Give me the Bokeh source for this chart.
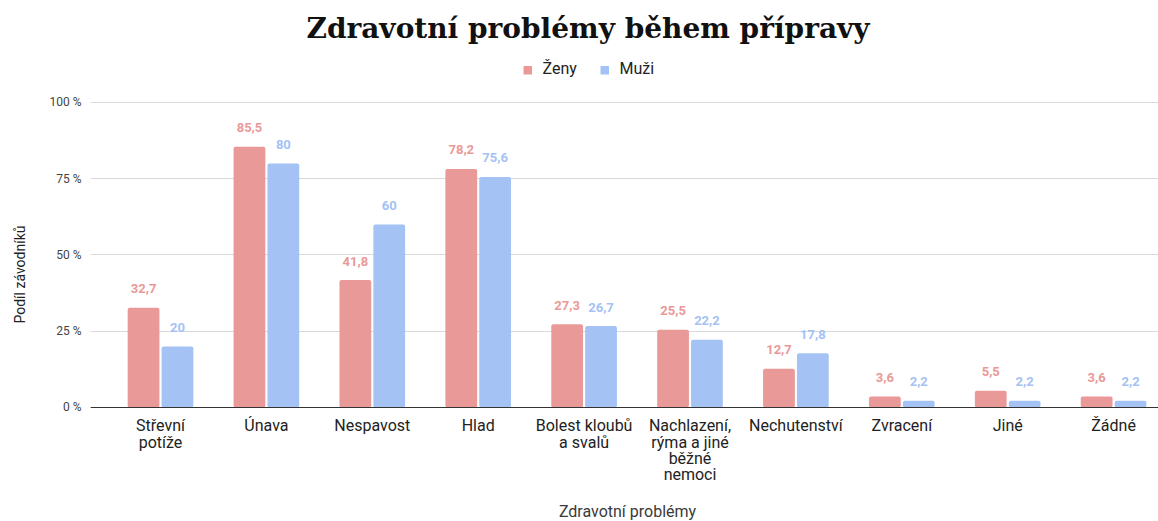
from bokeh.plotting import figure
from bokeh.models import Range1d, FixedTicker, Label, BoxAnnotation, ColumnDataSource, Title
from bokeh.embed import file_html
from bokeh.resources import INLINE
from bokeh.core.properties import value

# ---- data ----
categories = ["Střevní\npotíže", "Únava", "Nespavost", "Hlad", "Bolest kloubů\na svalů",
              "Nachlazení,\nrýma a jiné\nběžné\nnemoci", "Nechutenství", "Zvracení", "Jiné", "Žádné"]
zeny = [32.7, 85.5, 41.8, 78.2, 27.3, 25.5, 12.7, 3.6, 5.5, 3.6]
muzi = [20, 80, 60, 75.6, 26.7, 22.2, 17.8, 2.2, 2.2, 2.2]
y_ticks = [0, 25, 50, 75, 100]
y_tick_labels = ["0 %", "25 %", "50 %", "75 %", "100 %"]
series_names = ["Ženy", "Muži"]
title_text = "Zdravotní problémy během přípravy"
x_title = "Zdravotní problémy"
y_title = "Podíl závodníků"

PINK = "#EA9999"
BLUE = "#A4C2F4"
FONT = "Roboto"

def fmt(v):
    if float(v).is_integer():
        return str(int(v))
    return str(v).replace(".", ",")

idx = list(range(len(categories)))
off = 0.16
bw = 0.30

src_z = ColumnDataSource(dict(x=[i - off for i in idx], top=zeny, lab=[fmt(v) for v in zeny]))
src_m = ColumnDataSource(dict(x=[i + off for i in idx], top=muzi, lab=[fmt(v) for v in muzi]))

p = figure(width=1158, height=521, output_backend="svg", toolbar_location=None,
           x_range=Range1d(-0.661, 9.424), y_range=Range1d(-37.38, 133.44),
           min_border_left=90, min_border_right=0, min_border_top=0, min_border_bottom=0)
p.outline_line_color = None
p.background_fill_color = "white"
p.border_fill_color = "white"

p.vbar(x="x", top="top", width=bw, bottom=0, source=src_z, fill_color=PINK, line_color=None,
       border_radius=2)
p.vbar(x="x", top="top", width=bw, bottom=0, source=src_m, fill_color=BLUE, line_color=None,
       border_radius=2)

for src, col in ((src_z, PINK), (src_m, BLUE)):
    p.text(x="x", y="top", text="lab", source=src, text_color=col, text_align="center",
           text_baseline="alphabetic", y_offset=-19, text_font=value(FONT),
           text_font_size="13px", text_font_style="bold")

# x axis at y = 0 inside the frame
p.xaxis.fixed_location = 0
p.xaxis.ticker = FixedTicker(ticks=idx)
p.xaxis.major_label_overrides = {i: c for i, c in enumerate(categories)}
p.xaxis.major_tick_line_color = None
p.xaxis.minor_tick_line_color = None
p.xaxis.axis_line_color = "#333333"
p.xaxis.major_label_text_font = FONT
p.xaxis.major_label_text_font_size = "16px"
p.xaxis.major_label_text_line_height = 0.85
p.xaxis.major_label_text_color = "#222222"
p.xaxis.major_label_standoff = 3
p.xgrid.grid_line_color = None

p.yaxis.ticker = FixedTicker(ticks=y_ticks)
p.yaxis.major_label_overrides = {t: l for t, l in zip(y_ticks, y_tick_labels)}
p.yaxis.major_tick_line_color = None
p.yaxis.minor_tick_line_color = None
p.yaxis.axis_line_color = None
p.yaxis.major_label_text_font = FONT
p.yaxis.major_label_text_font_size = "12px"
p.yaxis.major_label_text_color = "#444444"
p.yaxis.major_label_standoff = 3
p.yaxis.axis_label = " "
p.yaxis.axis_label_text_font_size = "1px"
p.yaxis.axis_label_standoff = 10
p.ygrid.grid_line_color = "#d9d9d9"

# y title in the left panel
p.add_layout(Title(text=y_title, align="left", offset=198, text_font=FONT,
                   text_font_size="14px", text_font_style="normal", text_color="#222222",
                   standoff=10), "left")

# title and axis title inside the frame
p.add_layout(Label(x=4.037, y=124.3, text=title_text, text_align="center",
                   text_baseline="alphabetic", text_font="DejaVu Serif",
                   text_font_size="28px", text_font_style="bold", text_color="#111111"))
p.add_layout(Label(x=4.41, y=-34.1, text=x_title, text_align="center", text_baseline="middle",
                   text_font=FONT, text_font_size="16px", text_color="#3a3a3a"))

# legend
for x0, col, name in ((3.428, PINK, series_names[0]), (4.155, BLUE, series_names[1])):
    p.add_layout(BoxAnnotation(left=x0, right=x0 + 0.08, bottom=109.2, top=112.0,
                               fill_color=col, fill_alpha=1, line_color=None))
    p.add_layout(Label(x=x0 + 0.18, y=111.2, text=name, text_align="left",
                       text_baseline="alphabetic", text_font=FONT, text_font_size="16px",
                       text_color="#222222"))

open("out.html", "w").write(file_html(p, INLINE))
